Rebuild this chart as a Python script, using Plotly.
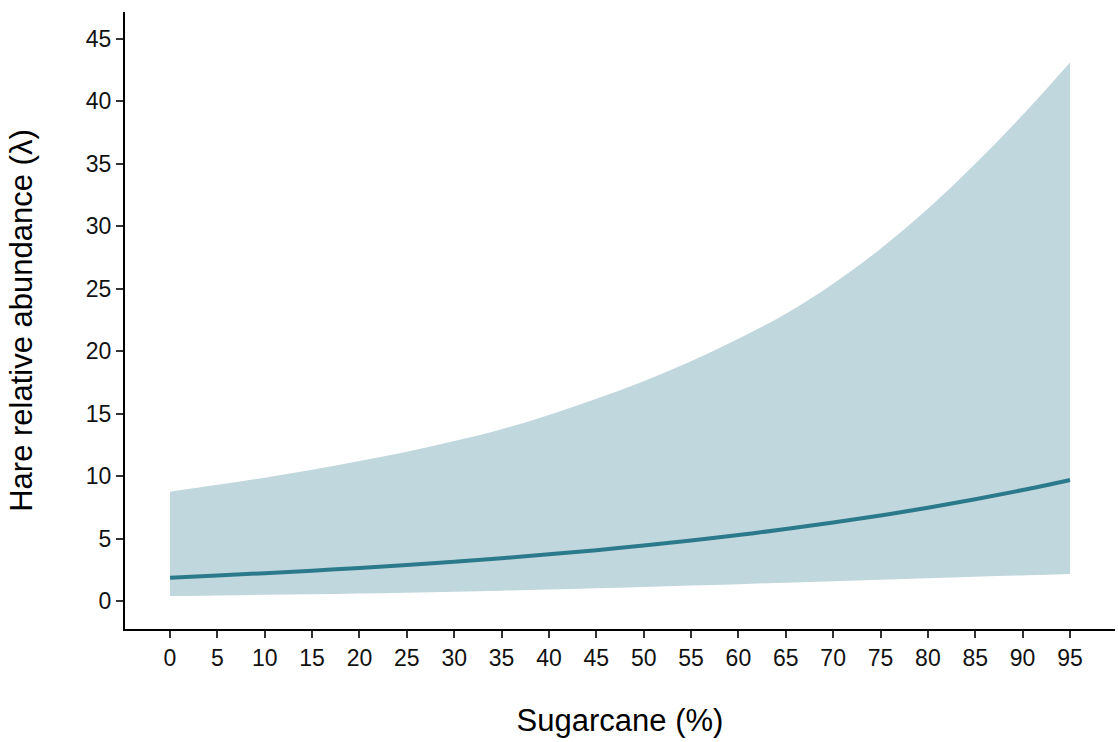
import plotly.graph_objects as go

# Predicted hare relative abundance along a sugarcane cover gradient
sugarcane = [0, 5, 10, 15, 20, 25, 30, 35, 40, 45, 50, 55, 60, 65, 70, 75, 80, 85, 90, 95]
abundance = [1.87, 2.04, 2.23, 2.43, 2.64, 2.88, 3.14, 3.43, 3.74, 4.07,
             4.44, 4.84, 5.28, 5.76, 6.28, 6.85, 7.47, 8.14, 8.88, 9.69]
ci_lower = [0.40, 0.45, 0.50, 0.55, 0.61, 0.67, 0.75, 0.83, 0.92, 1.02,
            1.12, 1.24, 1.35, 1.47, 1.58, 1.70, 1.82, 1.94, 2.05, 2.16]
ci_upper = [8.75, 9.30, 9.87, 10.5, 11.2, 11.95, 12.8, 13.75, 14.9, 16.2,
            17.6, 19.2, 21.0, 23.0, 25.4, 28.2, 31.4, 35.0, 38.9, 43.1]

x_ticks = list(range(0, 96, 5))
y_ticks = list(range(0, 46, 5))

band_color = "#c1d7de"
line_color = "#2b7a8b"
font_family = "Liberation Sans, Arial, sans-serif"

fig = go.Figure()
fig.add_trace(go.Scatter(x=sugarcane, y=ci_lower, mode="lines",
                         line=dict(width=0, color=band_color, shape="spline"),
                         hoverinfo="skip", showlegend=False))
fig.add_trace(go.Scatter(x=sugarcane, y=ci_upper, mode="lines",
                         line=dict(width=0, color=band_color, shape="spline"),
                         fill="tonexty", fillcolor=band_color,
                         hoverinfo="skip", showlegend=False))
fig.add_trace(go.Scatter(x=sugarcane, y=abundance, mode="lines",
                         line=dict(width=4, color=line_color, shape="spline"),
                         showlegend=False))

axis_common = dict(
    showgrid=False, zeroline=False, showline=True, linecolor="#000000", linewidth=2,
    ticks="outside", ticklen=7, tickwidth=2, tickcolor="#333333",
    tickfont=dict(family=font_family, size=23, color="#111111"),
    title_font=dict(family=font_family, size=31, color="#000000"),
)

fig.update_xaxes(range=[-4.75, 99.75], tickvals=x_ticks,
                 title=dict(text="Sugarcane (%)", standoff=40), **axis_common)
fig.update_yaxes(range=[-2.24, 47.15], tickvals=y_ticks,
                 title=dict(text="Hare relative abundance (λ)", standoff=44), **axis_common)

fig.update_layout(
    width=1118, height=742,
    margin=dict(l=125, r=3, t=12, b=113, autoexpand=False),
    paper_bgcolor="#ffffff", plot_bgcolor="#ffffff",
    font=dict(family=font_family),
)

fig.write_html("out.html")
